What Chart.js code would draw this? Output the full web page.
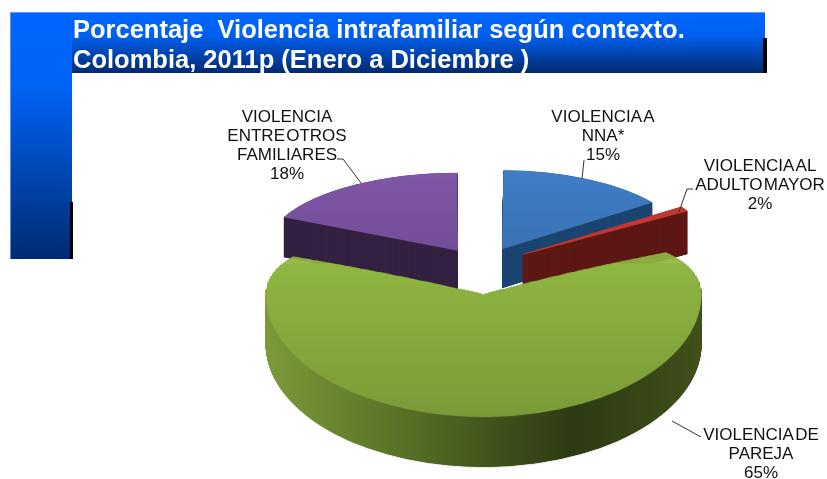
<!DOCTYPE html>
<html>
<head>
<meta charset="utf-8">
<style>html,body{margin:0;padding:0;background:#fff}canvas{display:block;filter:blur(0.45px)}</style>
<script src="https://cdn.jsdelivr.net/npm/chart.js@4"></script>
</head>
<body>
<canvas id="c" width="827" height="479"></canvas>
<script>
const titleLines = ['Porcentaje  Violencia intrafamiliar según contexto.', 'Colombia, 2011p (Enero a Diciembre )'];
const categories = ['VIOLENCIA A NNA*', 'VIOLENCIA AL ADULTO MAYOR', 'VIOLENCIA DE PAREJA', 'VIOLENCIA ENTRE OTROS FAMILIARES'];
const labelLines = [['VIOLENCIA A', 'NNA*'], ['VIOLENCIA AL', 'ADULTO MAYOR'], ['VIOLENCIA DE', 'PAREJA'], ['VIOLENCIA', 'ENTRE OTROS', 'FAMILIARES']];
const values = [15, 2, 65, 18];

// styling of the four slices
const sliceOffsets = [99, 130, 118, 95];
const sliceRadiusX = [187, 191, 218, 193];
const sliceRadiusY = [79, 85, 123, 78];
const sliceDepth = [39, 43, 50, 40];
const sliceEdge = [0, 0.9, 0, 0];
const topColorsStart = ['#3f7dc6', '#c63a32', '#9cc648', '#8056a6'];
const topColorsEnd = ['#35669e', '#b8322b', '#7a9a38', '#664689'];
const wallColors = ['#1d4672', '#5f1a16', null, '#352343'];
const drawOrder = [3, 0, 1, 2];
const perspectiveSlice = 2;
const labelCenters = [[603, 122], [760, 171], [761, 440], [287, 122]];
const leaderLines = [
  [[584, 160], [582, 179]],
  [[693, 189], [687, 189], [679, 212]],
  [[701, 437], [672, 421]],
  [[337, 159], [343, 159], [361, 183]]
];
const LABEL_FONT = '17px "Liberation Sans", Arial, sans-serif';
const TITLE_FONT = 'bold 25.5px "Liberation Sans", Arial, sans-serif';

const headerPlugin = {
  id: 'header',
  beforeDraw(chart) {
    const ctx = chart.ctx;
    ctx.save();
    ctx.fillStyle = '#fff';
    ctx.fillRect(0, 0, 827, 479);
    let g = ctx.createLinearGradient(0, 12, 0, 259);
    g.addColorStop(0, '#0066ff');
    g.addColorStop(0.3, '#0063f6');
    g.addColorStop(1, '#002a70');
    ctx.fillStyle = g;
    ctx.fillRect(10, 12, 62, 247);
    g = ctx.createLinearGradient(0, 12, 0, 73);
    g.addColorStop(0, '#0066ff');
    g.addColorStop(0.38, '#0060f0');
    g.addColorStop(1, '#002a70');
    ctx.fillStyle = g;
    ctx.fillRect(72, 12, 693, 61);
    ctx.fillStyle = '#000';
    ctx.fillRect(70, 202, 3, 57);
    ctx.fillRect(763, 38, 4, 35);
    ctx.strokeStyle = 'rgba(120,165,240,.8)';
    ctx.lineWidth = 1;
    ctx.beginPath();
    ctx.moveTo(10.5, 259); ctx.lineTo(10.5, 12.5); ctx.lineTo(765, 12.5);
    ctx.stroke();
    ctx.fillStyle = '#fff';
    ctx.font = TITLE_FONT;
    ctx.textAlign = 'left';
    ctx.textBaseline = 'alphabetic';
    ctx.fillText(titleLines[0], 73, 38);
    ctx.fillText(titleLines[1], 73, 68);
    ctx.restore();
  }
};

function paintSlice(ctx, arc, i) {
  const base = arc.options;
  const grow = (base.offset / 4) * (1 - Math.sin(Math.min(Math.PI, arc.circumference)));
  const r = arc.outerRadius + grow;
  const sx = sliceRadiusX[i] / r;
  const sy = sliceRadiusY[i] / r;
  const cx = arc.x, cy = arc.y;
  const paint = (dy, fill, edge) => {
    ctx.save();
    ctx.translate(cx, cy + dy);
    ctx.scale(sx, sy);
    ctx.translate(-cx, -cy);
    arc.options = Object.assign({}, base, { backgroundColor: fill, borderColor: edge, borderWidth: edge ? sliceEdge[i] : 0 });
    arc.draw(ctx);
    ctx.restore();
  };
  let wall = wallColors[i];
  if (!wall) {
    wall = ctx.createLinearGradient(cx - r, 0, cx + r, 0);
    wall.addColorStop(0, '#7c9a38');
    wall.addColorStop(0.25, '#5f7a2a');
    wall.addColorStop(0.7, '#2e3a13');
    wall.addColorStop(1, '#40501b');
  }
  for (let d = sliceDepth[i]; d > 0; d -= 0.25) paint(d, wall, sliceEdge[i] ? wall : null);
  const top = ctx.createLinearGradient(0, cy - r, 0, cy + r);
  top.addColorStop(0, topColorsStart[i]);
  top.addColorStop(1, topColorsEnd[i]);
  paint(0, top, sliceEdge[i] ? topColorsStart[i] : null);
  arc.options = base;
}

const pie3dPlugin = {
  id: 'pie3d',
  beforeDatasetDraw(chart, args) {
    const ctx = chart.ctx;
    const arcs = args.meta.data;
    drawOrder.forEach(i => {
      if (i !== perspectiveSlice) { paintSlice(ctx, arcs[i], i); return; }
      // the front slice narrows and flattens towards the back, as in a perspective view
      const off = document.createElement('canvas');
      off.width = chart.width; off.height = chart.height;
      paintSlice(off.getContext('2d'), arcs[i], i);
      const mid = 300, cx = 485;
      const destY = y => y < mid ? y + 0.0036 * (mid - y) * (mid - y) : y;
      for (let y = 180; y < chart.height; y++) {
        const f = y < mid ? 1 - 1.67e-5 * (mid - y) * (mid - y) : 1;
        const d0 = destY(y), d1 = destY(y + 1);
        ctx.drawImage(off, 0, y, chart.width, 1, cx - cx * f, d0, chart.width * f, Math.max(d1 - d0, 0.3) + 0.3);
      }
    });
    return false;
  },
  afterDraw(chart) {
    const ctx = chart.ctx;
    ctx.save();
    ctx.strokeStyle = '#333';
    ctx.lineWidth = 1;
    leaderLines.forEach(pts => {
      ctx.beginPath();
      pts.forEach((p, k) => k ? ctx.lineTo(p[0], p[1]) : ctx.moveTo(p[0], p[1]));
      ctx.stroke();
    });
    ctx.fillStyle = '#111';
    ctx.font = LABEL_FONT;
    ctx.wordSpacing = '-3.5px';
    ctx.textAlign = 'center';
    ctx.textBaseline = 'alphabetic';
    categories.forEach((_, i) => {
      const lines = labelLines[i].concat(values[i] + '%');
      lines.forEach((t, k) => ctx.fillText(t, labelCenters[i][0], labelCenters[i][1] + k * 19));
    });
    ctx.restore();
  }
};

new Chart(document.getElementById('c'), {
  type: 'pie',
  data: {
    labels: categories,
    datasets: [{ data: values, offset: sliceOffsets, borderWidth: 0, backgroundColor: topColorsStart }]
  },
  options: {
    responsive: false,
    animation: false,
    radius: 100,
    layout: { padding: { left: 137, top: 53 } },
    plugins: { legend: { display: false }, tooltip: { enabled: false } }
  },
  plugins: [headerPlugin, pie3dPlugin]
});
</script>
</body>
</html>
